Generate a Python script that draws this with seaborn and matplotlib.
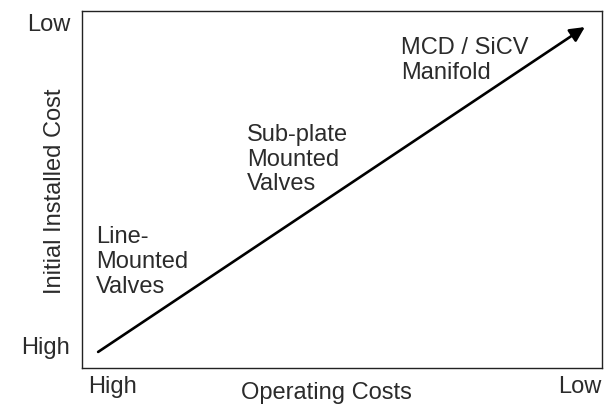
import matplotlib
matplotlib.use("Agg")
import matplotlib.pyplot as plt
import seaborn as sns
import pandas as pd

# ---- data ----
x_tick_pos = [0.059, 0.958]
x_tick_labels = ["High", "Low"]
y_tick_pos = [0.063, 0.969]
y_tick_labels = ["High", "Low"]
x_label = "Operating Costs"
y_label = "Initial Installed Cost"

trend_x = [0.031, 0.967]
trend_y = [0.045, 0.955]

categories = ["Line-\nMounted\nValves", "Sub-plate\nMounted\nValves", "MCD / SiCV\nManifold"]
cat_x = [0.027, 0.317, 0.613]
cat_y = [0.297, 0.583, 0.862]

sns.set_theme(style="white")
plt.rcParams["font.family"] = ["Liberation Sans", "DejaVu Sans"]

FS = 17
TC = "#2b2b2b"

fig = plt.figure(figsize=(6.05, 4.04), dpi=100)
ax = fig.add_axes([82 / 605, 1 - 368 / 404, 520 / 605, 357 / 404])

ax.annotate("", xy=(trend_x[1], trend_y[1]), xytext=(trend_x[0], trend_y[0]),
            xycoords="data", textcoords="data",
            arrowprops=dict(arrowstyle="-|>", lw=1.9, color="black",
                            mutation_scale=22, shrinkA=0, shrinkB=0))

for lab, cx, cy in zip(categories, cat_x, cat_y):
    ax.text(cx, cy, lab, ha="left", va="center", fontsize=FS,
            color=TC, linespacing=1.15, transform=ax.transData)

ax.set_xlim(0, 1)
ax.set_ylim(0, 1)
ax.set_xticks(x_tick_pos, x_tick_labels)
ax.set_yticks(y_tick_pos, y_tick_labels)
ax.tick_params(axis="both", length=0, labelsize=FS, labelcolor=TC)
ax.tick_params(axis="x", pad=6)
ax.tick_params(axis="y", pad=8.5)

ax.set_xlabel(x_label, fontsize=FS, color=TC)
ax.xaxis.set_label_coords(0.470, -0.039)
ax.xaxis.label.set_va("top")
ax.set_ylabel(y_label, fontsize=FS, color=TC)
ax.yaxis.set_label_coords(-0.030, 0.496)

for s in ax.spines.values():
    s.set_color("#222222")
    s.set_linewidth(1.0)
    s.set_visible(True)

fig.savefig("out.png", dpi=100, facecolor="white")
